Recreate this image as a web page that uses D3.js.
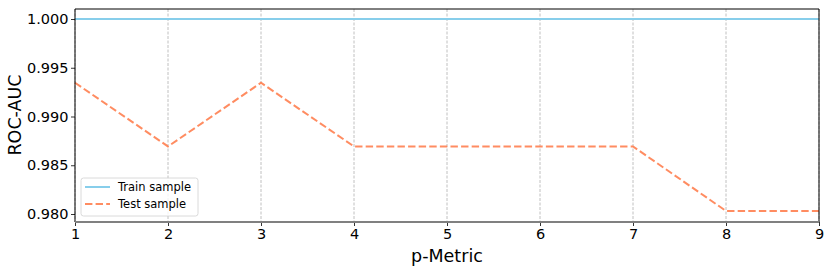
<!DOCTYPE html>
<html><head><meta charset="utf-8">
<script src="https://cdn.jsdelivr.net/npm/d3@7"></script>
<style>body{margin:0;background:#fff}svg{display:block}text{font-family:"DejaVu Sans",sans-serif}</style>
</head><body><svg id="c" width="830" height="271"></svg>
<script>
const pMetric = [1,2,3,4,5,6,7,8,9];
const trainAUC = [1,1,1,1,1,1,1,1,1];
const testAUC = [0.99346,0.98693,0.99346,0.98693,0.98693,0.98693,0.98693,0.98031,0.98031];
const yTicks = [0.980,0.985,0.990,0.995,1.000];
const seriesNames = ["Train sample","Test sample"];

const svg = d3.select("#c");
const L=75,R=819,T=9,B=222;
const x = d3.scaleLinear().domain([1,9]).range([L,R]);
const y = d3.scaleLinear().domain([0.980,1.000]).range([214,19]);

svg.append("g").selectAll("line").data(pMetric).join("line")
  .attr("x1",d=>x(d)).attr("x2",d=>x(d)).attr("y1",T).attr("y2",B)
  .attr("stroke","#b0b0b0").attr("stroke-width",0.8).attr("stroke-dasharray","3,1.5");

const line = d3.line().x((d,i)=>x(pMetric[i])).y(d=>y(d));
svg.append("path").datum(trainAUC).attr("d",line).attr("fill","none")
  .attr("stroke","#87CEEB").attr("stroke-width",2);
svg.append("path").datum(testAUC).attr("d",line).attr("fill","none")
  .attr("stroke","#FF7F50").attr("stroke-opacity",0.9).attr("stroke-width",2).attr("stroke-dasharray","7.4,3.2");

const ya = svg.append("g").attr("transform",`translate(${L},0)`)
  .call(d3.axisLeft(y).tickValues(yTicks).tickFormat(d3.format(".3f")).tickSize(4).tickPadding(2.5));
const xa = svg.append("g").attr("transform",`translate(0,${B})`)
  .call(d3.axisBottom(x).tickValues(pMetric).tickFormat(d3.format("d")).tickSize(4).tickPadding(3));
[ya,xa].forEach(a=>{a.select(".domain").remove();a.attr("font-family",null).attr("font-size",null);a.selectAll("text").style("font-size","14.5px").attr("fill","#000");a.selectAll("line").attr("stroke","#000").attr("stroke-width",0.8);});

svg.append("line").attr("x1",L).attr("x2",R).attr("y1",T).attr("y2",T).attr("stroke","#000").attr("stroke-width",1);
svg.append("line").attr("x1",L).attr("x2",L).attr("y1",T).attr("y2",B).attr("stroke","#000").attr("stroke-width",1);
svg.append("line").attr("x1",R).attr("x2",R).attr("y1",T).attr("y2",B).attr("stroke","#000").attr("stroke-width",1);
svg.append("line").attr("x1",L).attr("x2",R).attr("y1",B).attr("y2",B).attr("stroke","#808080").attr("stroke-width",2);

svg.append("text").attr("x",(L+R)/2).attr("y",262).attr("text-anchor","middle").attr("font-size",17.5).text("p-Metric");
svg.append("text").attr("transform",`translate(20.5,115) rotate(-90)`).attr("text-anchor","middle").attr("font-size",17.5).text("ROC-AUC");

const lg = svg.append("g");
lg.append("rect").attr("x",81).attr("y",178).attr("width",117).attr("height",38).attr("rx",2.5)
  .attr("fill","#fff").attr("fill-opacity",0.8).attr("stroke","#d0d0d0").attr("stroke-width",0.8);
const styles=[{c:"#87CEEB",d:null},{c:"#FF7F50",d:"7.4,3.2"}];
seriesNames.forEach((n,i)=>{
  const yy=187+i*17;
  lg.append("line").attr("x1",85).attr("x2",110).attr("y1",yy).attr("y2",yy).attr("stroke",styles[i].c)
    .attr("stroke-width",2).attr("stroke-dasharray",styles[i].d).attr("stroke-opacity",i?0.9:1);
  lg.append("text").attr("x",118).attr("y",yy+4).attr("font-size",11.5).text(n);
});
</script></body></html>
